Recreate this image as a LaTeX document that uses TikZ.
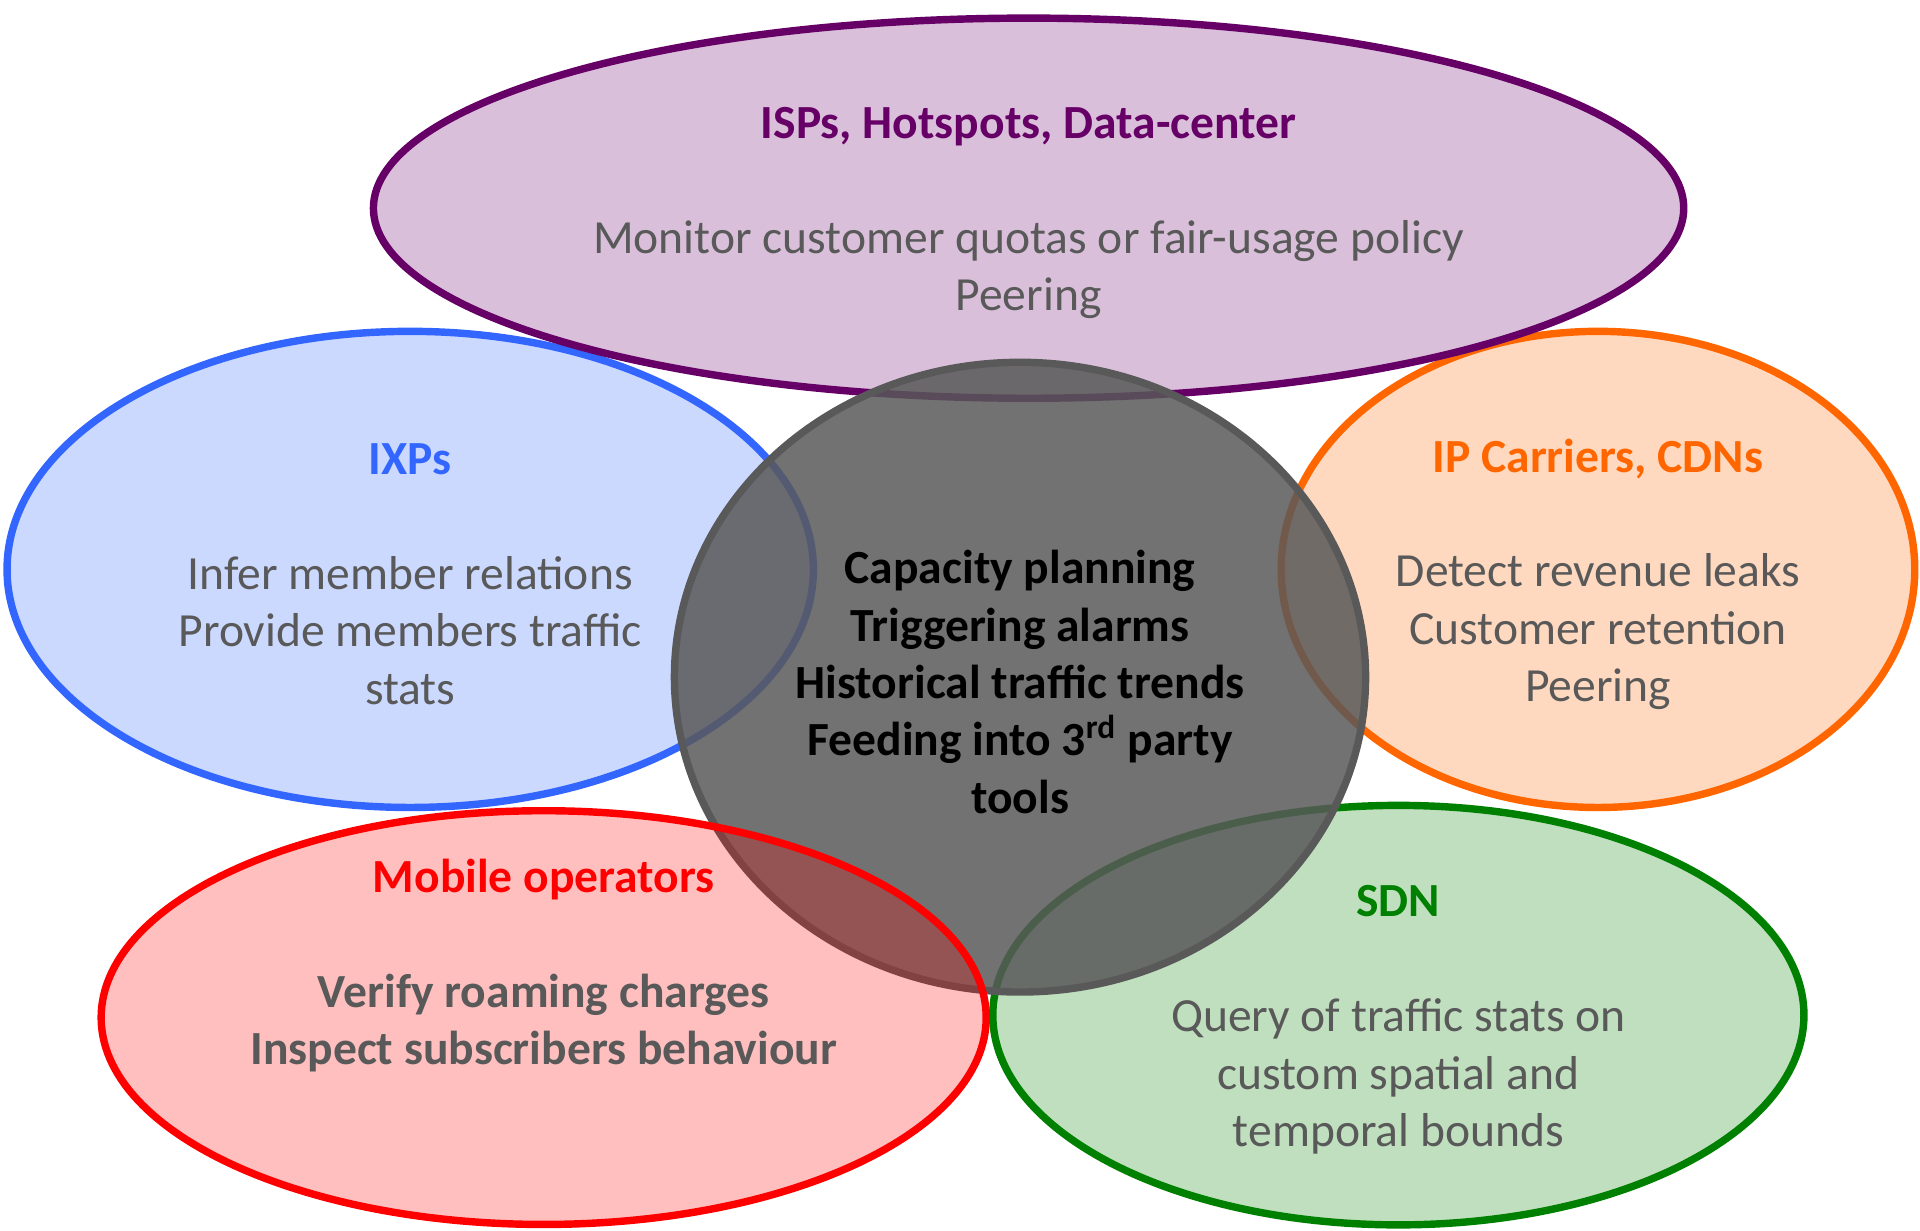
\documentclass[tikz,border=0pt]{standalone}
\usepackage{fontspec}
\setmainfont{Carlito}
\usetikzlibrary{shapes.geometric}

\definecolor{ispc}{RGB}{102,0,102}
\definecolor{ixpc}{RGB}{51,102,255}
\definecolor{cdnc}{RGB}{255,102,0}
\definecolor{mobc}{RGB}{255,0,0}
\definecolor{sdnc}{RGB}{0,128,0}
\definecolor{corec}{RGB}{89,89,89}

\tikzset{
  blob/.style={ellipse,draw=#1,fill=#1,fill opacity=0.25,draw opacity=1,line width=2.2pt,inner sep=0pt},
  usecase/.style={align=center,text=corec,yshift=-0.05cm,font=\fontsize{14.1pt}{17pt}\selectfont},
}

\begin{document}
\begin{tikzpicture}[x=0.012755cm,y=-0.012755cm]
	\useasboundingbox (0,0) rectangle (1568,1005.3);
	% the five user groups and the common core
	\node[blob=ixpc,minimum width=8.4cm,minimum height=4.96cm] (ixp) at (335,465) {};
	\node[blob=cdnc,minimum width=6.6cm,minimum height=4.96cm] (cdn) at (1305,465) {};
	\node[blob=sdnc,minimum width=8.45cm,minimum height=4.37cm] (sdn) at (1142,829) {};
	\node[blob=ispc,minimum width=13.65cm,minimum height=3.96cm] (isp) at (840,170) {};
	\node[ellipse,draw=corec,fill=corec,fill opacity=0.85,line width=2.2pt,inner sep=0pt,
		minimum width=7.2cm,minimum height=6.56cm] (core) at (833,553) {};
	\node[blob=mobc,minimum width=9.22cm,minimum height=4.31cm] (mob) at (444,831) {};
	% texts
	\node[usecase] (isptxt) at (isp) {{\bfseries\color{ispc}ISPs, Hotspots, Data-center}\\[17pt]
		Monitor customer quotas or fair-usage policy\\ Peering};
	\node[usecase] (ixptxt) at (ixp) {{\bfseries\color{ixpc}IXPs}\\[17pt]
		Infer member relations\\ Provide members traffic\\ stats};
	\node[usecase] (cdntxt) at (cdn) {{\bfseries\color{cdnc}IP Carriers, CDNs}\\[17pt]
		Detect revenue leaks\\ Customer retention\\ Peering};
	\node[usecase,text=black,font=\fontsize{14.1pt}{17pt}\selectfont\bfseries] (coretxt) at (core)
		{Capacity planning\\ Triggering alarms\\ Historical traffic trends\\
		Feeding into 3\textsuperscript{rd} party\\ tools};
	\node[usecase,font=\fontsize{14.1pt}{17pt}\selectfont\bfseries] (mobtxt) at ([yshift=0.59cm]mob)
		{{\color{mobc}Mobile operators}\\[17pt] Verify roaming charges\\ Inspect subscribers behaviour};
	\node[usecase] (sdntxt) at (sdn) {{\bfseries\color{sdnc}SDN}\\[17pt]
		Query of traffic stats on\\ custom spatial and\\ temporal bounds};
\end{tikzpicture}
\end{document}
